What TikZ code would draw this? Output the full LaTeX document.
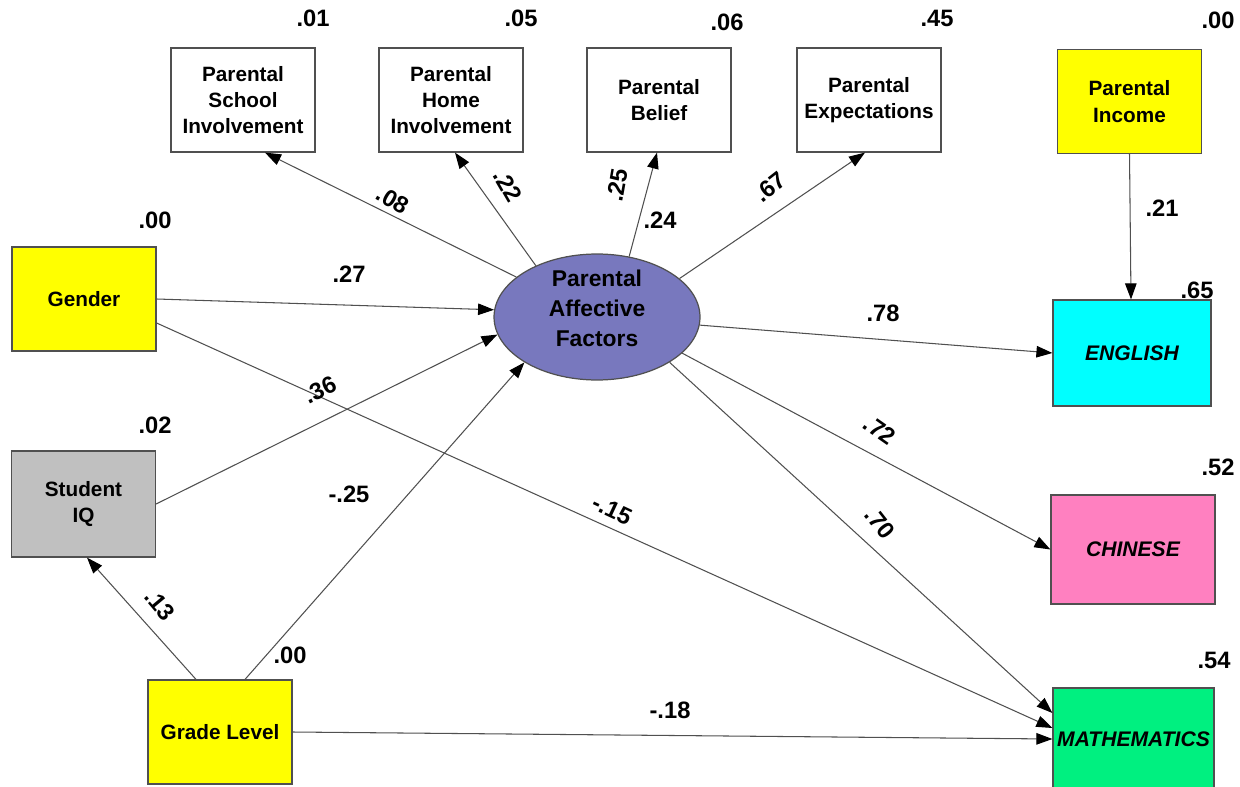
\documentclass[tikz,border=0pt]{standalone}
\usepackage{fontspec}
\setmainfont{Liberation Sans}
\usetikzlibrary{arrows.meta,shapes.geometric}
\definecolor{boxyellow}{HTML}{FFFF00}
\definecolor{boxgray}{HTML}{C0C0C0}
\definecolor{latentblue}{HTML}{7878BE}
\definecolor{boxcyan}{HTML}{00FFFF}
\definecolor{boxpink}{HTML}{FF80C0}
\definecolor{boxgreen}{HTML}{00F080}
\definecolor{edgegray}{HTML}{505050}
\tikzset{
  obsbox/.style={draw=edgegray, line width=0.7pt, minimum width=2.88cm, minimum height=2.08cm,
    align=center, inner sep=1pt, font=\fontsize{11.8}{15}\selectfont\bfseries},
  outbox/.style={obsbox, font=\fontsize{12}{15}\selectfont\bfseries\itshape},
  latent/.style={draw=edgegray, line width=0.7pt, ellipse, fill=latentblue, minimum width=4.12cm,
    minimum height=2.52cm, inner sep=0pt, font=\fontsize{13}{17}\selectfont\bfseries},
  pathline/.style={draw=edgegray, line width=0.6pt,
    -{Triangle[length=0.32cm,width=0.23cm,fill=black,color=black]}},
  coef/.style={font=\fontsize{13.5}{16}\selectfont\bfseries, inner sep=0pt},
}
\begin{document}
\begin{tikzpicture}[x=0.02cm,y=-0.02cm]
\useasboundingbox (0,0) rectangle (1240,787);

% indicator boxes
\node[obsbox] (school) at (243,100) {Parental\\School\\Involvement};
\node[obsbox] (home)   at (451,100) {Parental\\Home\\Involvement};
\node[obsbox] (belief) at (659,100) {Parental\\Belief};
\node[obsbox] (expect) at (869,100) {Parental\\Expectations};
\node[obsbox, fill=boxyellow] (income) at (1129.5,101.5) {Parental\\Income};

% exogenous predictors
\node[obsbox, fill=boxyellow] (gender) at (84,299) {Gender};
\node[obsbox, fill=boxgray, minimum height=2.12cm] (iq) at (83.5,504) {Student\\IQ};
\node[obsbox, fill=boxyellow] (grade) at (220,732) {Grade Level};

% latent factor (text set slightly above the centre)
\node[latent] (paf) at (597,317)
  {\raisebox{0.5pt}[0pt][0pt]{\begin{tabular}{@{}c@{}}Parental\\Affective\\Factors\end{tabular}}};

% outcomes
\node[outbox, fill=boxcyan, minimum width=3.16cm, minimum height=2.12cm] (english) at (1132,353) {ENGLISH};
\node[outbox, fill=boxpink, minimum width=3.28cm, minimum height=2.18cm] (chinese) at (1133,549.5) {CHINESE};
\node[outbox, fill=boxgreen, minimum width=3.22cm, minimum height=2.04cm] (math) at (1133.5,739) {MATHEMATICS};

% paths
\draw[pathline] (paf) -- ([xshift=0.44cm]school.south);
\draw[pathline] (paf.140) -- ([xshift=0.08cm]home.south);
\draw[pathline] (paf.62) -- ([xshift=-0.04cm]belief.south);
\draw[pathline] (paf.25) -- ([xshift=-0.08cm]expect.south);
\draw[pathline] (gender.east) -- (paf.176);
\draw[pathline] (iq.east) -- (paf.190);
\draw[pathline] ([xshift=0.5cm]grade.north) -- (paf.212);
\draw[pathline] ([xshift=-0.48cm]grade.north) -- ([xshift=0.07cm]iq.south);
\draw[pathline] ([yshift=-0.48cm]gender.east) -- ([yshift=0.22cm]math.west);
\draw[pathline] (grade.east) -- ([yshift=0cm]math.west);
\draw[pathline] (paf) -- (english.west);
\draw[pathline] (paf.-23) -- (chinese.west);
\draw[pathline] (paf.-32) -- ([yshift=0.52cm]math.west);
\draw[pathline] (income.south) -- ([xshift=-0.02cm]english.north);

% squared multiple correlations
\node[coef] (r1) at (313,18) {.01};
\node[coef] (r2) at (521,18) {.05};
\node[coef] (r3) at (727,22) {.06};
\node[coef] (r4) at (937,18) {.45};
\node[coef] (r5) at (1218,20) {.00};
\node[coef] (r6) at (155,220) {.00};
\node[coef] (r7) at (155,425) {.02};
\node[coef] (r8) at (1197,290) {.65};
\node[coef] (r9) at (1218,467) {.52};
\node[coef] (r10) at (1214,660) {.54};

% path coefficients
\node[coef, rotate=-30] (c1) at (393,200) {.08};
\node[coef, rotate=-60] (c2) at (508,186) {.22};
\node[coef, rotate=80] (c3) at (617,185) {.25};
\node[coef] (c4) at (660,220) {.24};
\node[coef, rotate=38] (c5) at (770,187) {.67};
\node[coef] (c6) at (349,274) {.27};
\node[coef] (c7) at (883,313) {.78};
\node[coef, rotate=25] (c8) at (320,390) {.36};
\node[coef] (c9) at (349,494) {-.25};
\node[coef, rotate=-25] (c10) at (612,510) {-.15};
\node[coef, rotate=-35] (c11) at (880,430) {.72};
\node[coef, rotate=-52] (c12) at (880,523) {.70};
\node[coef, rotate=-50] (c13) at (160,605) {.13};
\node[coef] (c14) at (290,655) {.00};
\node[coef] (c15) at (670,710) {-.18};
\node[coef] (c16) at (1162,208) {.21};
\end{tikzpicture}
\end{document}
